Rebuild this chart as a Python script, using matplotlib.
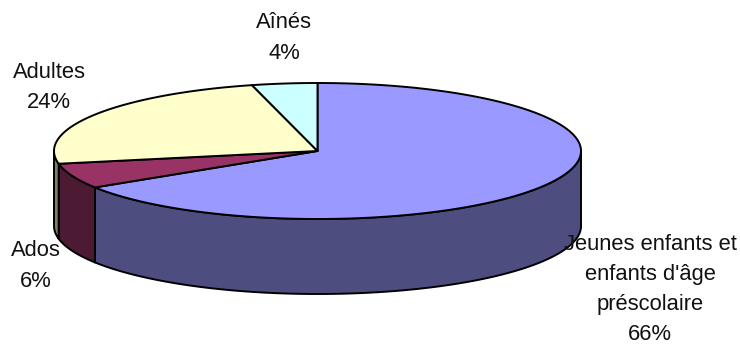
import matplotlib
matplotlib.use("Agg")
import numpy as np
import matplotlib.pyplot as plt
from matplotlib.patches import Polygon

categories = ["Jeunes enfants et\nenfants d'âge\npréscolaire", "Ados", "Adultes", "Aînés"]
shares = [66, 6, 24, 4]
top_colors = ["#9999FF", "#993366", "#FFFFCC", "#CCFFFF"]
side_colors = ["#4D4D80", "#4D1A33", "#808066", "#668080"]

# pie geometry, in pixels
CX, CY = 317.5, 151
RX, RY = 263.5, 68
DEPTH = 75
EDGE = 1.4

label_pos = [(650, 289.5), (36, 266), (49, 87.5), (284, 38)]

plt.rcParams["font.family"] = ["Liberation Sans", "DejaVu Sans"]

def rim(a0, a1, drop=0):
    # a = degrees clockwise from 12 o'clock
    t = np.radians(np.linspace(a0, a1, max(int(abs(a1 - a0)) * 2, 2)))
    return np.column_stack([CX + RX * np.sin(t), CY - RY * np.cos(t) + drop])

fig = plt.figure(figsize=(7.4, 3.45), dpi=100)
ax = fig.add_axes([0, 0, 1, 1])
ax.set_xlim(0, 740)
ax.set_ylim(345, 0)
ax.axis("off")

edges = np.cumsum([0] + shares) / sum(shares) * 360

# side wall only shows on the front half of the rim
for i in range(len(shares)):
    a0, a1 = max(edges[i], 90), min(edges[i + 1], 270)
    if a1 <= a0:
        continue
    pts = np.vstack([rim(a0, a1), rim(a0, a1, DEPTH)[::-1]])
    ax.add_patch(Polygon(pts, closed=True, facecolor=side_colors[i],
                         edgecolor="black", lw=EDGE, joinstyle="round"))

# top faces
for i in range(len(shares)):
    pts = np.vstack([[CX, CY], rim(edges[i], edges[i + 1])])
    ax.add_patch(Polygon(pts, closed=True, facecolor=top_colors[i],
                         edgecolor="black", lw=EDGE, joinstyle="round"))

for name, val, (x, y) in zip(categories, shares, label_pos):
    ax.text(x, y, f"{name}\n{val}%", ha="center", va="center", fontsize=15.8,
            linespacing=1.58, color="#111111", zorder=5)

fig.savefig("out.png", dpi=100)
